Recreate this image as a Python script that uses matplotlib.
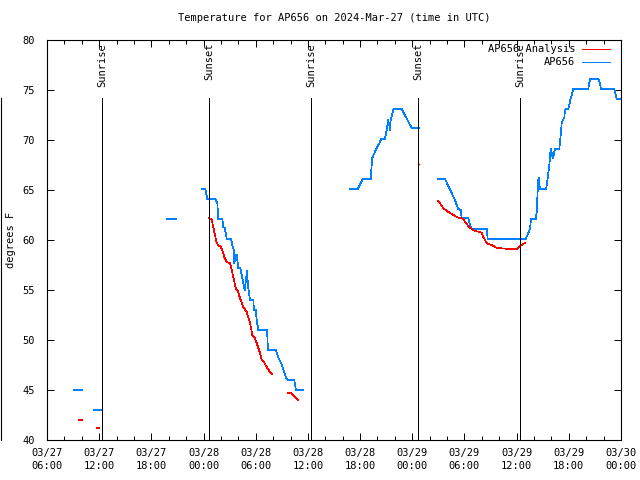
import numpy as np
import pandas as pd
import matplotlib
matplotlib.use("Agg")
import matplotlib.pyplot as plt
import matplotlib.dates as mdates
from matplotlib.lines import Line2D

# hours after 2024-03-27 06:00 UTC, nan = gap in record
start = pd.Timestamp("2024-03-27 06:00")

obs_hours = [3.10, 4.02, np.nan,
             5.40, 6.24, np.nan,
             13.80, 14.83, np.nan,
             17.86, 18.20, 18.43, 19.35, 19.58, 19.70, 20.16, 20.27, 20.43, 20.55,
             20.66, 21.16, 21.31, 21.47, 21.54, 21.70, 21.81, 22.00, 22.23, 22.46,
             22.73, 23.00, 23.11, 23.34, 23.72, 23.80, 24.00, 24.11, 24.30, 25.30,
             25.41, 26.33, 26.56, 27.02, 27.48, 27.71, 28.43, 28.63, 29.47, np.nan,
             34.84, 35.72, 36.30, 37.22, 37.34, 37.36, 37.60, 37.91, 38.29, 38.40,
             38.86, 39.06, 39.21, 39.36, 39.44, 39.52, 39.67, 39.82, 39.93, 40.78,
             41.93, 42.77, np.nan,
             44.99, 45.76, 46.91, 47.11, 47.29, 47.57, 47.68, 48.44, 48.64, 48.83,
             50.56, 50.67, 55.04, 55.54, 55.65, 56.19, 56.31, 56.38, 56.49, 56.57,
             56.61, 56.69, 57.38, 57.46, 57.57, 57.64, 57.76, 57.87, 57.95, 58.15,
             58.26, 58.41, 58.90, 59.07, 59.18, 59.30, 59.48, 59.56, 59.68, 59.94,
             60.06, 60.17, 60.33, 60.52, 62.24, 62.32, 62.44, 63.39, 63.58, 63.70,
             65.23, 65.39, 65.51, 66.00]
obs_temp = [45.0, 45.0, np.nan,
            43.0, 43.0, np.nan,
            62.1, 62.1, np.nan,
            65.1, 65.1, 64.1, 64.1, 63.7, 62.1, 62.1, 61.3, 61.2, 60.7,
            60.1, 60.1, 59.5, 59.0, 57.7, 58.5, 58.5, 57.2, 57.2, 56.2,
            55.0, 56.9, 55.4, 54.0, 54.0, 53.0, 53.0, 52.0, 51.0, 51.0,
            49.0, 49.0, 48.3, 47.5, 46.2, 46.0, 46.0, 45.0, 45.0, np.nan,
            65.1, 65.1, 66.1, 66.1, 67.6, 68.1, 68.6, 69.2, 69.8, 70.1,
            70.1, 71.0, 72.0, 71.5, 71.0, 72.0, 72.5, 73.0, 73.1, 73.1,
            71.2, 71.2, np.nan,
            66.1, 66.1, 64.0, 63.5, 63.1, 63.0, 62.2, 62.2, 61.5, 61.1,
            61.1, 60.1, 60.1, 61.1, 62.1, 62.1, 62.8, 64.2, 66.0, 66.2,
            65.5, 65.1, 65.1, 65.5, 66.2, 66.7, 67.5, 68.7, 69.1, 68.2,
            68.5, 69.1, 69.1, 70.5, 71.7, 72.0, 72.2, 73.0, 73.1, 73.1,
            73.5, 74.0, 74.5, 75.1, 75.1, 75.5, 76.1, 76.1, 75.7, 75.1,
            75.1, 74.5, 74.1, 74.1]

ana_hours = [3.68, 4.02, np.nan,
             5.71, 5.94, np.nan,
             18.66, 18.94, 19.12, 19.51, 19.70, 19.97, 20.16, 20.39, 20.66, 21.04,
             21.24, 21.42, 21.70, 21.93, 22.19, 22.57, 22.96, 23.34, 23.61, 23.84,
             24.11, 24.49, 24.68, 24.95, 25.26, 25.64, 25.91, np.nan,
             27.74, 28.06, 28.90, np.nan,
             44.99, 45.19, 45.38, 45.57, 45.96, 46.34, 46.72, 47.11, 47.49, 47.87,
             48.06, 48.26, 48.44, 48.64, 48.83, 49.21, 49.79, 49.98, 50.17, 50.36,
             50.56, 50.75, 51.13, 51.32, 51.71, 53.24, 54.01, 54.19, 54.39, 54.77,
             54.96]
ana_temp = [42.0, 42.0, np.nan,
            41.2, 41.2, np.nan,
            62.2, 62.0, 61.3, 59.7, 59.5, 59.3, 59.0, 58.3, 57.8, 57.7,
            57.0, 56.3, 55.2, 54.9, 54.2, 53.3, 52.8, 51.7, 50.5, 50.3,
            49.7, 48.7, 48.0, 47.8, 47.3, 46.8, 46.6, np.nan,
            44.7, 44.7, 44.0, np.nan,
            63.9, 63.7, 63.4, 63.2, 62.9, 62.7, 62.5, 62.3, 62.2, 62.1,
            61.8, 61.6, 61.4, 61.2, 61.1, 60.9, 60.8, 60.7, 60.3, 60.0,
            59.7, 59.6, 59.5, 59.4, 59.2, 59.1, 59.1, 59.2, 59.4, 59.6,
            59.7]
# lone analysis value at sunset on 03/29
ana_dot_hour = [42.77]
ana_dot_temp = [67.6]

sun_times = ["2024-03-27 12:22", "2024-03-28 00:40", "2024-03-28 12:22",
             "2024-03-29 00:42", "2024-03-29 12:24"]
sun_names = ["Sunrise", "Sunset", "Sunrise", "Sunset", "Sunrise"]

def to_time(h):
    return start + pd.to_timedelta(np.array(h, dtype=float), unit="h")

mono = "DejaVu Sans Mono"
plt.rcParams["font.family"] = mono
plt.rcParams["font.size"] = 7

fig = plt.figure(figsize=(6.4, 4.8), dpi=100)
ax = fig.add_axes([47 / 640, 40 / 480, 574 / 640, 400 / 480])

lw = 0.5
red = "#ff0000"
blue = "#0080ff"
ax.plot(to_time(obs_hours), obs_temp, color=blue, lw=lw, antialiased=False)
ax.plot(to_time(ana_hours), ana_temp, color=red, lw=lw, antialiased=False)
ax.plot(to_time(ana_dot_hour), ana_dot_temp, ls="none", marker="s", ms=1.0,
        color=red, mec="none")

for t, name in zip(sun_times, sun_names):
    ts = pd.Timestamp(t)
    ax.plot([ts, ts], [40, 74.2], color="black", lw=lw, antialiased=False)
    ax.text(ts, 79.7, name, rotation=90, ha="center", va="top", fontsize=7.5)

ax.set_xlim(start, start + pd.Timedelta(hours=66))
ax.set_ylim(40, 80)
ax.set_yticks(np.arange(40, 81, 5))
ax.xaxis.set_major_locator(mdates.HourLocator(byhour=[0, 6, 12, 18]))
ax.xaxis.set_minor_locator(mdates.HourLocator(interval=2))
ax.xaxis.set_major_formatter(mdates.DateFormatter("%m/%d\n%H:%M"))

ax.tick_params(which="both", direction="in", top=True, right=True, width=0.7)
ax.tick_params(which="major", length=5)
ax.tick_params(which="minor", length=3)
ax.tick_params(axis="x", pad=6, labelsize=7.5)
ax.tick_params(axis="y", pad=9, labelsize=7.5)
for lab in ax.get_xticklabels():
    lab.set_linespacing(1.3)
for sp in ax.spines.values():
    sp.set_linewidth(0.8)

fig.text(11 / 640, 0.5, "degrees F", rotation=90, ha="center", va="center",
         fontsize=7.5)
ax.set_title("Temperature for AP656 on 2024-Mar-27 (time in UTC)", fontsize=7.5, pad=14)

# legend, gnuplot style: right-aligned text, sample line after it
for yy, name, col in [(0.9775, "AP656 Analysis", red), (0.945, "AP656", blue)]:
    ax.text(0.92, yy, name, transform=ax.transAxes, ha="right", va="center",
            fontsize=7.5)
    ax.plot([0.932, 0.981], [yy, yy], transform=ax.transAxes, color=col,
            lw=lw, antialiased=False)

fig.add_artist(Line2D([0.002, 0.002], [0.083, 0.796], color="black", lw=0.8))

fig.savefig("out.png", dpi=100)
